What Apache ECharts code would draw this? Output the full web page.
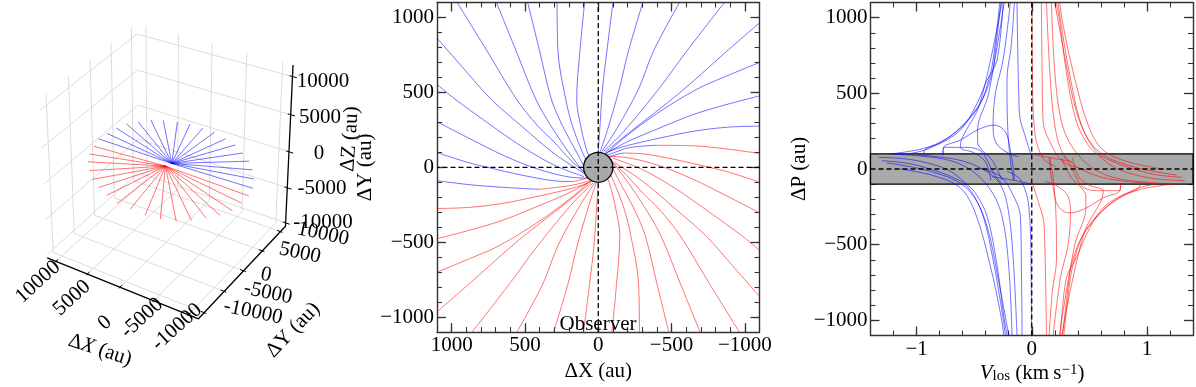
<!DOCTYPE html>
<html><head><meta charset="utf-8">
<script src="https://cdn.jsdelivr.net/npm/echarts@6/dist/echarts.min.js"></script>
<style>html,body{margin:0;padding:0;background:#fff}#c{width:1196px;height:387px}</style></head>
<body><div id="c"></div>
<script>
// ---------- 3D panel: ray tips (au) in the z = 0 plane ----------
const rayTipsBlue=[[11320,463],[11082,2186],[10767,3952],[10168,5553],[9077,6781],[7870,8072],[6347,8792],[4557,9442],[2848,9835],[896,9828],[-901,9738],[-2937,9033],[-4706,8397],[-6448,7213],[-8035,5946],[-9331,4415],[-10452,2682],[-11302,803]];
const rayTipsRed=[[-11658,-918],[-11648,-2732],[-11502,-4725],[-10786,-6388],[-9635,-7755],[-8352,-9088],[-6899,-10194],[-5071,-10865],[-3077,-11094],[-859,-11019],[1167,-10839],[3220,-10037],[5043,-9110],[6690,-7982],[8140,-6534],[9453,-4906],[10307,-3242],[10852,-1410]];
const rayHubBlue=[30,400], rayHubRed=[400,-540];
const ticks3d=[-10000,-5000,0,5000,10000];
// ---------- middle panel: dX, dY (au) ----------
const midBlue=[
[[1095,301],[868,187],[641,77],[415,-11],[188,-66],[52,-73]],
[[1095,550],[977,455],[755,297],[528,143],[301,15],[97,-62]],
[[1095,857],[910,650],[732,455],[528,279],[301,92],[97,-40]],
[[962,1099],[758,776],[558,455],[415,279],[301,169],[188,48],[86,-40]],
[[694,1099],[560,776],[426,455],[324,279],[188,81],[86,-46]],
[[481,1099],[400,776],[320,455],[245,279],[143,92],[75,-40]],
[[281,1099],[275,776],[222,455],[177,279],[109,103],[52,-18]],
[[93,1099],[125,776],[147,455],[120,279],[75,103],[29,15]],
[[-100,1099],[-59,776],[-29,521],[-10,250],[0,110]],
[[-304,1099],[-206,776],[-143,521],[-59,237],[-14,105]],
[[-554,1099],[-377,776],[-274,521],[-127,259],[-25,105]],
[[-860,1099],[-604,776],[-411,521],[-172,237],[-36,105]],
[[-1098,963],[-853,754],[-547,490],[-218,237],[-48,101]],
[[-1098,699],[-853,600],[-672,521],[-399,358],[-172,193],[-48,84]],
[[-1102,477],[-886,422],[-660,356],[-433,268],[-206,174],[-70,103]],
[[-1102,275],[-886,268],[-660,242],[-433,198],[-206,147],[-93,114],[-25,81]],
[[-399,147],[-206,130],[-93,92],[-25,70]],
[[1095,97],[868,26],[755,0],[528,-51],[301,-90],[175,-95]],
[[1095,-90],[868,-117],[641,-134],[403,-147]],
[[-175,95],[-143,90],[-29,55]]];
const midRed=[
[[-1095,-301],[-868,-187],[-641,-77],[-415,11],[-188,66],[-52,73]],
[[-1095,-550],[-977,-455],[-755,-297],[-528,-143],[-301,-15],[-97,62]],
[[-1095,-857],[-910,-650],[-732,-455],[-528,-279],[-301,-92],[-97,40]],
[[-962,-1099],[-758,-776],[-558,-455],[-415,-279],[-301,-169],[-188,-48],[-86,40]],
[[-694,-1099],[-560,-776],[-426,-455],[-324,-279],[-188,-81],[-86,46]],
[[-481,-1099],[-400,-776],[-320,-455],[-245,-279],[-143,-92],[-75,40]],
[[-281,-1099],[-275,-776],[-222,-455],[-177,-279],[-109,-103],[-52,18]],
[[-93,-1099],[-125,-776],[-147,-455],[-120,-279],[-75,-103],[-29,-15]],
[[100,-1099],[59,-776],[29,-521],[10,-250],[0,-110]],
[[304,-1099],[206,-776],[143,-521],[59,-237],[14,-105]],
[[554,-1099],[377,-776],[274,-521],[127,-259],[25,-105]],
[[860,-1099],[604,-776],[411,-521],[172,-237],[36,-105]],
[[1098,-963],[853,-754],[547,-490],[218,-237],[48,-101]],
[[1098,-699],[853,-600],[672,-521],[399,-358],[172,-193],[48,-84]],
[[1102,-477],[886,-422],[660,-356],[433,-268],[206,-174],[70,-103]],
[[1102,-275],[886,-268],[660,-242],[433,-198],[206,-147],[93,-114],[25,-81]],
[[-1102,92],[-886,121],[-660,143],[-399,147]],
[[-1095,-97],[-868,-26],[-755,0],[-528,51],[-301,90],[-175,95]],
[[403,-147],[188,-121],[29,-84]],
[[175,-95],[143,-90],[29,-55]]];
// ---------- right panel: V_los (km/s), dP (au) ----------
const velBlue=[
[[-1.22,100],[-.939,136],[-.736,202],[-.577,301],[-.446,433],[-.374,587],[-.336,719],[-.278,1097]],
[[-1.084,99],[-.91,130],[-.707,218],[-.533,345],[-.417,477],[-.345,631],[-.325,719],[-.268,1097]],
[[-.939,97],[-.925,130],[-.765,180],[-.606,268],[-.475,433],[-.388,587],[-.301,719],[-.249,1097]],
[[-.186,1097],[-.249,719],[-.316,499],[-.336,279],[-.307,169],[-.2,103],[-.113,81]],
[[-.128,1097],[-.12,719],[-.113,499],[-.104,345],[-.055,213],[-.006,92]],
[[-.151,1097],[-.18,800],[-.215,600],[-.209,279],[-.186,59],[-.157,-73]],
[[-.771,92],[-.765,143],[-.62,191],[-.461,262],[-.325,290],[-.229,246],[-.186,125],[-.162,15],[-.151,-73]],
[[-.24,1097],[-.374,499],[-.47,257],[-.47,180],[-.432,125],[-.345,59],[-.258,-73]],
[[-.26,1097],[-.45,433],[-.606,202],[-.62,143],[-.504,108],[-.403,48],[-.354,-73]],
[[-.771,92],[-.765,143],[-.562,143],[-.446,121],[-.388,59],[-.33,-29],[-.258,-100]],
[[-1.33,77],[-1.084,66],[-.852,29],[-.707,-15],[-.577,-92],[-.49,-158],[-.388,-312],[-.3,-642],[-.243,-972],[-.214,-1097]],
[[-1.301,55],[-1.055,35],[-.852,-9],[-.707,-48],[-.562,-114],[-.432,-290],[-.325,-642],[-.252,-972],[-.229,-1097]],
[[-1.258,40],[-1.026,11],[-.852,-22],[-.649,-81],[-.504,-180],[-.388,-378],[-.301,-686],[-.2,-1097]],
[[-1.142,0],[-.852,-44],[-.62,-125],[-.49,-290],[-.359,-642],[-.267,-972],[-.243,-1097]],
[[-.997,94],[-.649,62],[-.417,-4],[-.272,-103],[-.2,-290],[-.157,-642],[-.128,-1097]],
[[-1.229,99],[-.765,66],[-.533,-4],[-.359,-136],[-.258,-312],[-.2,-642],[-.171,-1097]],
[[-.475,7],[-.272,-48],[-.157,-180],[-.099,-312],[-.09,-642],[-.084,-1097]],
[[-.214,-15],[-.099,-70],[-.026,-246],[-.006,-642],[-.003,-1097]],
[[-.345,-50],[-.142,-77],[-.006,-99]]];
const velRed=[
[[1.22,-100],[.939,-136],[.736,-202],[.577,-301],[.446,-433],[.374,-587],[.336,-719],[.278,-1097]],
[[1.084,-99],[.91,-130],[.707,-218],[.533,-345],[.417,-477],[.345,-631],[.325,-719],[.268,-1097]],
[[.939,-97],[.925,-130],[.765,-180],[.606,-268],[.475,-433],[.388,-587],[.301,-719],[.249,-1097]],
[[.186,-1097],[.249,-719],[.316,-499],[.336,-279],[.307,-169],[.2,-103],[.113,-81]],
[[.128,-1097],[.12,-719],[.113,-499],[.104,-345],[.055,-213],[.006,-92]],
[[.151,-1097],[.18,-800],[.215,-600],[.209,-279],[.186,-59],[.157,73]],
[[.771,-92],[.765,-143],[.62,-191],[.461,-262],[.325,-290],[.229,-246],[.186,-125],[.162,-15],[.151,73]],
[[.24,-1097],[.374,-499],[.47,-257],[.47,-180],[.432,-125],[.345,-59],[.258,73]],
[[.26,-1097],[.45,-433],[.606,-202],[.62,-143],[.504,-108],[.403,-48],[.354,73]],
[[.771,-92],[.765,-143],[.562,-143],[.446,-121],[.388,-59],[.33,29],[.258,100]],
[[1.33,-77],[1.084,-66],[.852,-29],[.707,15],[.577,92],[.49,158],[.388,312],[.3,642],[.243,972],[.214,1097]],
[[1.301,-55],[1.055,-35],[.852,9],[.707,48],[.562,114],[.432,290],[.325,642],[.252,972],[.229,1097]],
[[1.258,-40],[1.026,-11],[.852,22],[.649,81],[.504,180],[.388,378],[.301,686],[.2,1097]],
[[1.142,0],[.852,44],[.62,125],[.49,290],[.359,642],[.267,972],[.243,1097]],
[[.997,-94],[.649,-62],[.417,4],[.272,103],[.2,290],[.157,642],[.128,1097]],
[[1.229,-99],[.765,-66],[.533,4],[.359,136],[.258,312],[.2,642],[.171,1097]],
[[.475,-7],[.272,48],[.157,180],[.099,312],[.09,642],[.084,1097]],
[[.214,15],[.099,70],[.026,246],[.006,642],[.003,1097]],
[[.345,50],[.142,77],[.006,99]]];
// ---------- axes ----------
const auMajor=[-1000,-500,0,500,1000];
const auMinor=[-1000,-900,-800,-700,-600,-500,-400,-300,-200,-100,0,100,200,300,400,500,600,700,800,900,1000];
const velMajor=[-1,0,1];
const velMinor=[-1.2,-1,-.8,-.6,-.4,-.2,0,.2,.4,.6,.8,1,1.2];
const auLim=1100, velLim=1.4, diskRadius=100, bandHalf=100;

const FONT='"Liberation Serif","Times New Roman",serif';
const AX='#333', BLUE='rgba(0,0,255,0.55)', RED='rgba(255,0,0,0.55)';
const fmt=v=>String(v).replace('-','\u2212');

// perspective projection of the 3D box onto the page (axis units of the hidden pixel grid)
const L=11400, Zlo=-10500, Zhi=11500, hub3=[-600,0,600];
function proj(x,y,z){
  const u=x/10000,v=y/10000,t=z/10000,w=1+.033*u+.033*v-.028*t;
  return [(499-185.2*u+137.5*v-14*t)/w/3,(504-51*u-93.7*v-232*t)/w/3];
}
const BR=[NaN,NaN];
const gridPts=[];
ticks3d.forEach(t=>{
  gridPts.push(proj(L,t,Zlo),proj(L,t,Zhi),BR);   // x wall, verticals
  gridPts.push(proj(t,L,Zlo),proj(t,L,Zhi),BR);   // y wall, verticals
  gridPts.push(proj(L,-L,t),proj(L,L,t),proj(-L,L,t),BR); // z lines on walls
  gridPts.push(proj(L,t,Zlo),proj(-L,t,Zlo),BR);  // floor
  gridPts.push(proj(t,L,Zlo),proj(t,-L,Zlo),BR);
});
const axisPts=[proj(L,-L,Zlo),proj(-L,-L,Zlo),proj(-L,L,Zlo),proj(-L,L,Zhi)];
const tickPts=[];
ticks3d.forEach(t=>{
  tickPts.push(proj(t,-L-300,Zlo),proj(t,-L+500,Zlo),BR);
  tickPts.push(proj(-L-300,t,Zlo),proj(-L+500,t,Zlo),BR);
  tickPts.push(proj(-L-600,L,t),proj(-L+400,L,t),BR);
});

function axisSet(dim,grid,lim,major,minor,inverse,withFmt,name,nameGap){
  const pos=dim==='x'?['bottom','top']:['left','right'];
  const base={type:'value',gridIndex:grid,min:-lim,max:lim,inverse:!!inverse,splitLine:{show:false},minorTick:{show:false}};
  const out=[];
  pos.forEach((p,i)=>{
    out.push(Object.assign({},base,{position:p,name:i===0?name:'',nameLocation:'middle',nameGap:nameGap,
      nameTextStyle:{fontFamily:FONT,fontSize:21,color:'#000'},
      axisLine:{show:true,onZero:false,lineStyle:{color:AX,width:1.4}},
      axisTick:{show:true,inside:true,length:9,customValues:major,lineStyle:{color:AX,width:1.3}},
      axisLabel:{show:i===0,margin:3,fontFamily:FONT,fontSize:21,color:'#000',customValues:major,formatter:fmt}}));
    out.push(Object.assign({},base,{position:p,
      axisLine:{show:false,onZero:false},
      axisTick:{show:true,inside:true,length:5,customValues:minor,lineStyle:{color:AX,width:1.1}},
      axisLabel:{show:false}}));
  });
  return out;
}
const xAxes=[{type:'value',gridIndex:0,min:0,max:1196,show:false}]
 .concat(axisSet('x',1,auLim,auMajor,auMinor,true,true,'\u0394X (au)',22))
 .concat(axisSet('x',2,velLim,velMajor,velMinor,false,true,'',22));
const yAxes=[{type:'value',gridIndex:0,min:0,max:387,inverse:true,show:false}]
 .concat(axisSet('y',1,auLim,auMajor,auMinor,false,true,'\u0394Y (au)',57))
 .concat(axisSet('y',2,auLim,auMajor,auMinor,false,true,'\u0394P (au)',56));
const AX1=1, AX2=5;
const series=[];
function line(data,color,ax,z,opt){
  series.push(Object.assign({type:'line',xAxisIndex:ax,yAxisIndex:ax,data:data,showSymbol:false,symbol:'none',
    lineStyle:{color:color,width:1},z:z,silent:true,animation:false},opt||{}));
}
// 3D panel
line(gridPts,'#dcdcdc',0,1,{clip:false,lineStyle:{color:'#dcdcdc',width:1},connectNulls:false});
line(axisPts,'#000',0,3,{clip:false,lineStyle:{color:'#000',width:1.3}});
line(tickPts,'#000',0,3,{clip:false,lineStyle:{color:'#000',width:1},connectNulls:false});
const hub=(p,q)=>[p[0]+hub3[0],p[1]+hub3[1]];
rayTipsBlue.forEach(t=>line([proj(rayHubBlue[0]+hub3[0],rayHubBlue[1]+hub3[1],hub3[2]),proj(t[0]+hub3[0],t[1]+hub3[1],hub3[2])],BLUE,0,2,{clip:false}));
rayTipsRed.forEach(t=>line([proj(rayHubRed[0]+hub3[0],rayHubRed[1]+hub3[1],hub3[2]),proj(t[0]+hub3[0],t[1]+hub3[1],hub3[2])],RED,0,2,{clip:false}));
// middle panel
midBlue.forEach(d=>line(d,BLUE,AX1,2,{smooth:.35}));
midRed.forEach(d=>line(d,RED,AX1,2,{smooth:.35}));
series.push({type:'custom',xAxisIndex:AX1,yAxisIndex:AX1,z:5,silent:true,animation:false,data:[[0,0,diskRadius]],
  renderItem:(p,api)=>{const c=api.coord([api.value(0),api.value(1)]),s=api.size([api.value(2),api.value(2)]);
    return {type:'ellipse',shape:{cx:c[0],cy:c[1],rx:s[0],ry:s[1]},style:{fill:'#a9a9a9',stroke:'#000',lineWidth:1.3}};}});
const dash={lineStyle:{color:'#000',width:1.3,type:[5,3]}};
line([[-auLim,0],[auLim,0]],'#000',AX1,6,dash);
line([[0,-auLim],[0,auLim]],'#000',AX1,6,dash);
// right panel
series.push({type:'custom',xAxisIndex:AX2,yAxisIndex:AX2,z:1,silent:true,animation:false,data:[[-velLim,bandHalf,velLim,-bandHalf]],
  renderItem:(p,api)=>{const a=api.coord([api.value(0),api.value(1)]),b=api.coord([api.value(2),api.value(3)]);
    return {type:'rect',shape:{x:a[0],y:a[1],width:b[0]-a[0],height:b[1]-a[1]},style:{fill:'#a9a9a9',stroke:'#000',lineWidth:1.3}};}});
velBlue.forEach(d=>line(d,BLUE,AX2,2,{smooth:.35}));
velRed.forEach(d=>line(d,RED,AX2,2,{smooth:.35}));
line([[-velLim,0],[velLim,0]],'#000',AX2,6,dash);
line([[0,-auLim],[0,auLim]],'#000',AX2,6,dash);

function label(text,x,y,deg,extra){
  return {type:'text',x:x,y:y,rotation:(deg||0)*Math.PI/180,z:20,silent:true,
    style:Object.assign({text:text,font:'21px '+FONT,fill:'#000',align:'center',verticalAlign:'middle'},extra||{})};
}
const graphics=[
 label('10000',38,282,42),label('5000',72,298,42),label('0',105,323,42),label('-5000',142,318,42),label('-10000',177,327,42),
 label('10000',323,234,-12),label('5000',300,253,-12),label('0',266,275,-12),label('-5000',268,293,-12),label('-10000',253,312,-12),
 label('10000',323,81,0),label('5000',320,117,0),label('0',319,153,0),label('-5000',322,188,0),label('-10000',323,222,0),
 label('\u0394{i|X} (au)',100,350,-18,{rich:{i:{font:'italic 21px '+FONT}}}),
 label('\u0394Y (au)',293,330,46),
 label('\u0394Z (au)',350,139,86),
 label('Observer',598,324,0),
 label('{i|V}{s|los} (km\u2009s{u|\u22121})',1032,373,0,{rich:{i:{font:'italic 21px '+FONT},s:{font:'15px '+FONT,verticalAlign:'bottom'},u:{font:'15px '+FONT,verticalAlign:'top'}}})
];
const chart=echarts.init(document.getElementById('c'),null,{renderer:'canvas'});
chart.setOption({animation:false,backgroundColor:'#fff',
 grid:[{left:0,top:0,width:1196,height:387},
       {left:437,top:2.5,width:322.5,height:333},
       {left:870.5,top:2.5,width:322.5,height:333}],
 xAxis:xAxes,yAxis:yAxes,series:series,graphic:{elements:graphics}});
</script></body></html>
